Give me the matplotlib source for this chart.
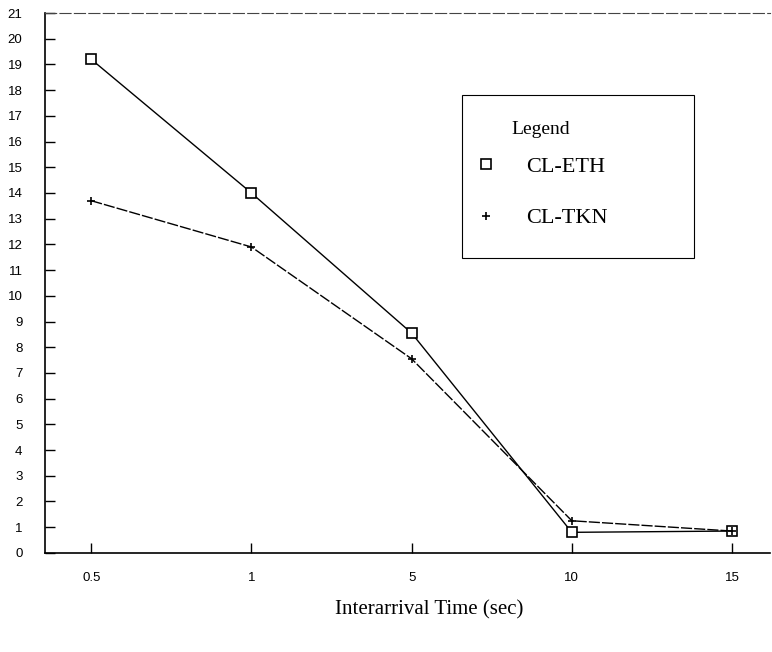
import matplotlib
matplotlib.use("Agg")
import matplotlib.pyplot as plt
from matplotlib.patches import Rectangle

# Datos
x_labels = ["0.5", "1", "5", "10", "15"]
cl_eth = [19.2, 14.0, 8.55, 0.8, 0.85]
cl_tkn = [13.7, 11.9, 7.55, 1.25, 0.85]
y_ticks = list(range(0, 22))

x = list(range(len(x_labels)))

fig = plt.figure(figsize=(7.72, 6.52), dpi=100)
ax = fig.add_axes([0.058, 0.152, 0.94, 0.828])

ax.plot(x, cl_eth, color="black", lw=1.0, marker="s", markersize=7,
        markerfacecolor="white", markeredgecolor="black", markeredgewidth=1.2,
        label="CL-ETH", zorder=3)
ax.plot(x, cl_tkn, color="black", lw=1.0, marker="+", markersize=6,
        markeredgewidth=1.2, dashes=(8, 1.5), label="CL-TKN", zorder=3)

ax.set_xlim(-0.29, 4.24)
ax.set_ylim(0, 21)
ax.set_xticks(x)
ax.set_xticklabels(x_labels)
ax.set_yticks(y_ticks)
ax.tick_params(direction="in", length=7, width=1, labelsize=9.5)
ax.tick_params(axis="x", pad=14)
ax.tick_params(axis="y", pad=16)
for lab in ax.get_xticklabels() + ax.get_yticklabels():
    lab.set_family("Liberation Sans")

ax.spines["right"].set_visible(False)
ax.spines["top"].set_linestyle((0, (10, 3)))
ax.spines["top"].set_linewidth(0.8)
ax.spines["top"].set_color("#444444")
ax.spines["left"].set_linewidth(1.2)
ax.spines["bottom"].set_linewidth(1.2)

ax.set_xlabel("Interarrival Time (sec)", family="Liberation Serif", fontsize=15)
ax.xaxis.set_label_coords(0.53, -0.087)

# recuadro de la leyenda
ax.add_patch(Rectangle((0.575, 0.546), 0.319, 0.302, transform=ax.transAxes,
                       fill=False, edgecolor="black", lw=0.8, zorder=4))

leg = ax.legend(loc="upper left", bbox_to_anchor=(0.586, 0.808),
                title="Legend", frameon=False,
                prop={"family": "Liberation Serif", "size": 16},
                title_fontproperties={"family": "Liberation Serif", "size": 14},
                handlelength=1.0, handletextpad=1.33, labelspacing=1.4,
                borderpad=0.2, borderaxespad=0)
leg._legend_box.sep = 13
for h in leg.legend_handles:
    h.set_linestyle("none")

fig.savefig("out.png", dpi=100)
